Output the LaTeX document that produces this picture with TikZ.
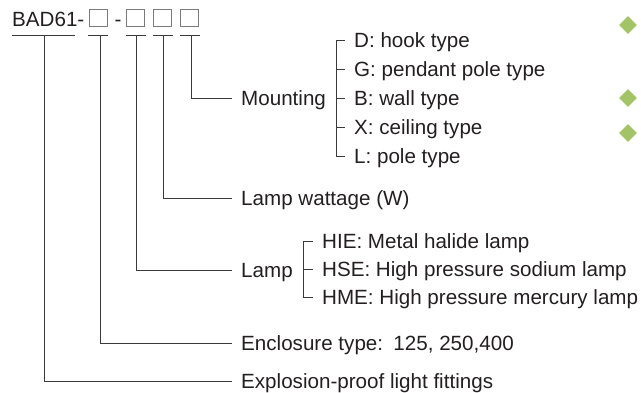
\documentclass[tikz,border=0pt]{standalone}
\usepackage{fontspec}
\setmainfont{Liberation Sans}
\usetikzlibrary{shapes.geometric}
\definecolor{txt}{HTML}{231F20}
\definecolor{ln}{HTML}{3A3A3A}
\definecolor{bx}{HTML}{7A7A7A}
\definecolor{gem}{HTML}{A2C466}
\tikzset{
  line/.style={draw=ln, line width=0.9pt},
  code/.style={anchor=base west, inner sep=0pt, text=txt, font=\fontsize{20.6}{24}\selectfont},
  codebox/.style={draw=bx, line width=1.1pt, minimum width=17.5pt, minimum height=17pt, inner sep=0pt},
  label/.style={anchor=west, inner xsep=9pt, inner ysep=0pt, text height=14.7pt, text depth=0pt,
                text=txt, font=\fontsize{20.6}{24}\selectfont},
  gemstyle/.style={diamond, fill=gem, draw=none, minimum size=18pt, inner sep=0pt}
}
\begin{document}
\begin{tikzpicture}[x=1pt,y=-1pt]
\useasboundingbox (0,0) rectangle (641,393);
% code header
\node[code] (bad) at (12,27) {BAD61-};
\node[codebox] (b1) at (98.5,18) {};
\node[code] (dash) at (114.5,27) {-};
\node[codebox] (b2) at (135.5,18) {};
\node[codebox] (b3) at (162.5,18) {};
\node[codebox] (b4) at (189.5,18) {};
% underlines
\coordinate (u0a) at (12,35); \coordinate (u0b) at (75,35);
\coordinate (u1a) at (88,35); \coordinate (u1b) at (108,35);
\coordinate (u2a) at (126,35); \coordinate (u2b) at (146,35);
\coordinate (u3a) at (153,35); \coordinate (u3b) at (173,35);
\coordinate (u4a) at (180,35); \coordinate (u4b) at (200,35);
\draw[line] (u0a) -- (u0b);
\draw[line] (u1a) -- (u1b);
\draw[line] (u2a) -- (u2b);
\draw[line] (u3a) -- (u3b);
\draw[line] (u4a) -- (u4b);
\coordinate (u0) at (44,35);
\coordinate (u1) at (100.5,35);
\coordinate (u2) at (136.5,35);
\coordinate (u3) at (163.3,35);
\coordinate (u4) at (191.5,35);
% labels
\node[label] (mount) at (232,98) {Mounting};
\node[label] (watt) at (232,198) {Lamp wattage (W)};
\node[label] (lamp) at (232,270) {Lamp};
\node[label] (encl) at (232,343) {Enclosure type:\hspace{0.5em}125, 250,400};
\node[label] (expl) at (232,381) {Explosion-proof light fittings};
\draw[line] (u4) |- (mount.west);
\draw[line] (u3) |- (watt.west);
\draw[line] (u2) |- (lamp.west);
\draw[line] (u1) |- (encl.west);
\draw[line] (u0) |- (expl.west);
% mounting options
\node[label] (mD) at (345,40) {D: hook type};
\node[label] (mG) at (345,69) {G: pendant pole type};
\node[label] (mB) at (345,98) {B: wall type};
\node[label] (mX) at (345,127) {X: ceiling type};
\node[label] (mL) at (345,156) {L: pole type};
\coordinate (mspine) at (336,0);
\draw[line] (mD.west) -- (mD.west -| mspine) -- (mL.west -| mspine) -- (mL.west);
\draw[line] (mG.west) -- (mG.west -| mspine);
\draw[line] (mB.west) -- (mB.west -| mspine);
\draw[line] (mX.west) -- (mX.west -| mspine);
% lamp options
\node[label] (lI) at (313,241) {HIE: Metal halide lamp};
\node[label] (lS) at (313,269) {HSE: High pressure sodium lamp};
\node[label] (lM) at (313,297) {HME: High pressure mercury lamp};
\coordinate (lspine) at (303,0);
\draw[line] (lI.west) -- (lI.west -| lspine) -- (lM.west -| lspine) -- (lM.west);
\draw[line] (lS.west) -- (lS.west -| lspine);
% diamonds
\node[gemstyle] (g1) at (628,25) {};
\node[gemstyle] (g2) at (628,98) {};
\node[gemstyle] (g3) at (628,133) {};
\end{tikzpicture}
\end{document}
